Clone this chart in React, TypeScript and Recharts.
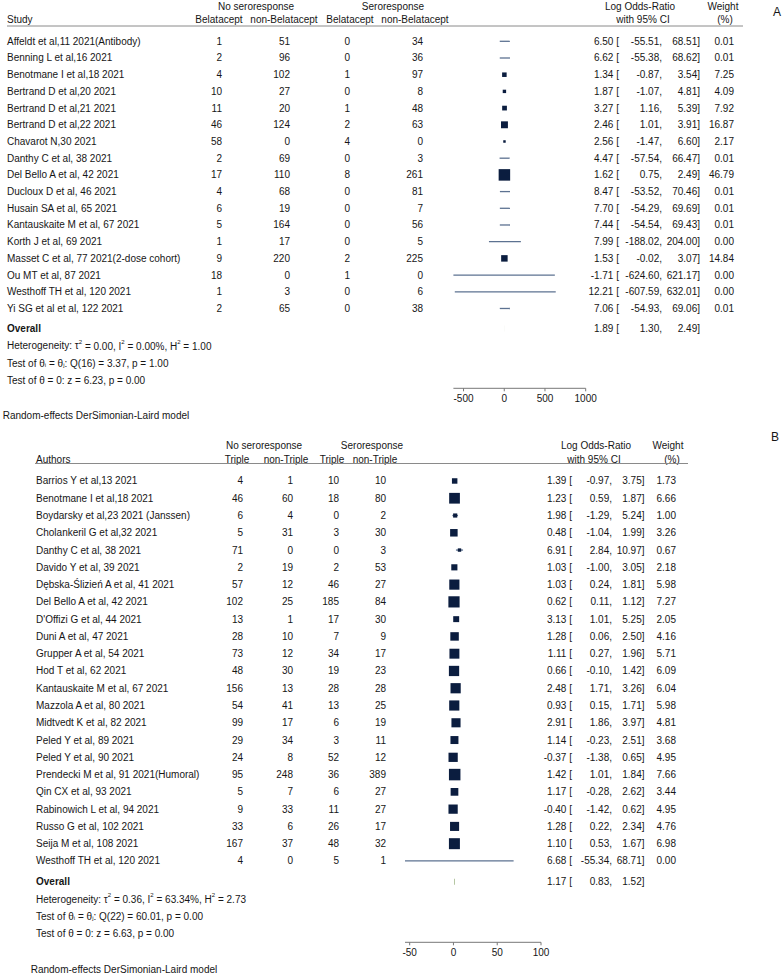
import React from "react";
import { ScatterChart, Scatter, XAxis, YAxis, ErrorBar } from "recharts";

const FONT = "'Liberation Sans', Arial, Helvetica, sans-serif";
const INK = "#161616";
const SQUARE = "#0b1d3f";
const CI = "#5d7291";

// ---- Panel A: Belatacept vs non-Belatacept
const studiesA = [
  "Affeldt et al,11 2021(Antibody)",
  "Benning L et al,16 2021",
  "Benotmane I et al,18 2021",
  "Bertrand D et al,20 2021",
  "Bertrand D et al,21 2021",
  "Bertrand D et al,22 2021",
  "Chavarot N,30 2021",
  "Danthy C et al, 38 2021",
  "Del Bello A et al, 42 2021",
  "Ducloux D et al, 46 2021",
  "Husain SA et al, 65 2021",
  "Kantauskaite M et al, 67 2021",
  "Korth J et al, 69 2021",
  "Masset C et al, 77 2021(2-dose cohort)",
  "Ou MT et al, 87 2021",
  "Westhoff TH et al, 120 2021",
  "Yi SG et al et al, 122 2021",
];
const noRespBelaA = [1, 2, 4, 10, 11, 46, 58, 2, 17, 4, 6, 5, 1, 9, 18, 1, 2];
const noRespNonA = [51, 96, 102, 27, 20, 124, 0, 69, 110, 68, 19, 164, 17, 220, 0, 3, 65];
const respBelaA = [0, 0, 1, 0, 1, 2, 4, 0, 8, 0, 0, 0, 0, 2, 1, 0, 0];
const respNonA = [34, 36, 97, 8, 48, 63, 0, 3, 261, 81, 7, 56, 5, 225, 0, 6, 38];
const lorA = [6.5, 6.62, 1.34, 1.87, 3.27, 2.46, 2.56, 4.47, 1.62, 8.47, 7.7, 7.44, 7.99, 1.53, -1.71, 12.21, 7.06];
const loA = [-55.51, -55.38, -0.87, -1.07, 1.16, 1.01, -1.47, -57.54, 0.75, -53.52, -54.29, -54.54, -188.02, -0.02, -624.6, -607.59, -54.93];
const hiA = [68.51, 68.62, 3.54, 4.81, 5.39, 3.91, 6.6, 66.47, 2.49, 70.46, 69.69, 69.43, 204.0, 3.07, 621.17, 632.01, 69.06];
const weightA = [0.01, 0.01, 7.25, 4.09, 7.92, 16.87, 2.17, 0.01, 46.79, 0.01, 0.01, 0.01, 0.0, 14.84, 0.0, 0.0, 0.01];
const overallA = [1.89, 1.3, 2.49];
const ticksA = [-500, 0, 500, 1000];

// ---- Panel B: Triple vs non-Triple
const studiesB = [
  "Barrios Y et al,13 2021",
  "Benotmane I et al,18 2021",
  "Boydarsky et al,23 2021 (Janssen)",
  "Cholankeril G et al,32 2021",
  "Danthy C et al, 38 2021",
  "Davido Y et al, 39 2021",
  "Dębska-Ślizień A et al, 41 2021",
  "Del Bello A et al, 42 2021",
  "D'Offizi G et al, 44 2021",
  "Duni A et al, 47 2021",
  "Grupper A et al, 54 2021",
  "Hod T et al, 62 2021",
  "Kantauskaite M et al, 67 2021",
  "Mazzola A et al, 80 2021",
  "Midtvedt K et al, 82 2021",
  "Peled Y et al, 89 2021",
  "Peled Y et al, 90 2021",
  "Prendecki M et al, 91 2021(Humoral)",
  "Qin CX et al, 93 2021",
  "Rabinowich L et al, 94 2021",
  "Russo G et al, 102 2021",
  "Seija M et al, 108 2021",
  "Westhoff TH et al, 120 2021",
];
const noRespTripleB = [4, 46, 6, 5, 71, 2, 57, 102, 13, 28, 73, 48, 156, 54, 99, 29, 24, 95, 5, 9, 33, 167, 4];
const noRespNonB = [1, 60, 4, 31, 0, 19, 12, 25, 1, 10, 12, 30, 13, 41, 17, 34, 8, 248, 7, 33, 6, 37, 0];
const respTripleB = [10, 18, 0, 3, 0, 2, 46, 185, 17, 7, 34, 19, 28, 13, 6, 3, 52, 36, 6, 11, 26, 48, 5];
const respNonB = [10, 80, 2, 30, 3, 53, 27, 84, 30, 9, 17, 23, 28, 25, 19, 11, 12, 389, 27, 27, 17, 32, 1];
const lorB = [1.39, 1.23, 1.98, 0.48, 6.91, 1.03, 1.03, 0.62, 3.13, 1.28, 1.11, 0.66, 2.48, 0.93, 2.91, 1.14, -0.37, 1.42, 1.17, -0.4, 1.28, 1.1, 6.68];
const loB = [-0.97, 0.59, -1.29, -1.04, 2.84, -1.0, 0.24, 0.11, 1.01, 0.06, 0.27, -0.1, 1.71, 0.15, 1.86, -0.23, -1.38, 1.01, -0.28, -1.42, 0.22, 0.53, -55.34];
const hiB = [3.75, 1.87, 5.24, 1.99, 10.97, 3.05, 1.81, 1.12, 5.25, 2.5, 1.96, 1.42, 3.26, 1.71, 3.97, 2.51, 0.65, 1.84, 2.62, 0.62, 2.34, 1.67, 68.71];
const weightB = [1.73, 6.66, 1.0, 3.26, 0.67, 2.18, 5.98, 7.27, 2.05, 4.16, 5.71, 6.09, 6.04, 5.98, 4.81, 3.68, 4.95, 7.66, 3.44, 4.95, 4.76, 6.98, 0.0];
const overallB = [1.17, 0.83, 1.52];
const ticksB = [-50, 0, 50, 100];

const fmt = (v: number) => v.toFixed(2);

function buildRows(labels: string[], cols: number[][], est: number[], lo: number[], hi: number[], w: number[]) {
  const wMax = Math.max(...w);
  return labels.map((label, i) => ({
    row: i + 1,
    est: est[i],
    lo: lo[i],
    hi: hi[i],
    err: [est[i] - lo[i], hi[i] - est[i]],
    label,
    counts: cols.map((c) => c[i]),
    w: w[i],
    size: 11.5 * Math.sqrt(w[i] / wMax),
  }));
}

const rowsA = buildRows(studiesA, [noRespBelaA, noRespNonA, respBelaA, respNonA], lorA, loA, hiA, weightA);
const rowsB = buildRows(studiesB, [noRespTripleB, noRespNonB, respTripleB, respNonB], lorB, loB, hiB, weightB);

const overallRow = (o: number[], n: number) => [
  { row: n + 1.2, est: o[0], lo: o[1], hi: o[2], err: [o[0] - o[1], o[2] - o[0]] },
];

const colsA = { labelX: 7, countX: [222, 290, 350, 423], estX: 619, loX: 662, hiX: 700, wX: 734 };
const colsB = { labelX: 36, countX: [243, 293, 339, 386], estX: 572, loX: 612, hiX: 644.5, wX: 676 };

const T = (p: any) => (
  <text fill={INK} fontSize={10} dominantBaseline="central" {...p} />
);

function StudyRow(props: any) {
  const { cx, cy, payload, cols } = props;
  const s = payload.size;
  return (
    <g>
      <T x={cols.labelX} y={cy}>{payload.label}</T>
      {payload.counts.map((c: number, k: number) => (
        <T key={k} x={cols.countX[k]} y={cy} textAnchor="end">{c}</T>
      ))}
      {s > 0.4 && <rect x={cx - s / 2} y={cy - s / 2} width={s} height={s} fill={SQUARE} />}
      <T x={cols.estX} y={cy} textAnchor="end">{fmt(payload.est)} [</T>
      <T x={cols.loX} y={cy} textAnchor="end">{fmt(payload.lo)},</T>
      <T x={cols.hiX} y={cy} textAnchor="end">{fmt(payload.hi)}]</T>
      <T x={cols.wX} y={cy} textAnchor="end">{fmt(payload.w)}</T>
    </g>
  );
}

function Sup({ s }: { s: string }) {
  return <tspan dy={-4} fontSize={6}>{s}</tspan>;
}

function OverallRow(props: any) {
  const { cy, payload, cols, stats, footX, footDy } = props;
  const x = cols.labelX;
  return (
    <g>
      <T x={x} y={cy} fontWeight="bold">Overall</T>
      <T x={cols.estX} y={cy} textAnchor="end">{fmt(payload.est)} [</T>
      <T x={cols.loX} y={cy} textAnchor="end">{fmt(payload.lo)},</T>
      <T x={cols.hiX} y={cy} textAnchor="end">{fmt(payload.hi)}]</T>
      <T x={x} y={cy + 17.4}>
        Heterogeneity: τ<Sup s="2" /><tspan dy={4}> = {stats.tau2}, I</tspan><Sup s="2" />
        <tspan dy={4}> = {stats.i2}, H</tspan><Sup s="2" /><tspan dy={4}> = {stats.h2}</tspan>
      </T>
      <T x={x} y={cy + 34.6}>
        Test of θ<tspan dy={2} fontSize={6}>i</tspan><tspan dy={-2}> = θ</tspan>
        <tspan dy={2} fontSize={6}>j</tspan><tspan dy={-2}>: Q({stats.df}) = {stats.q}, p = {stats.qp}</tspan>
      </T>
      <T x={x} y={cy + 51.6}>Test of θ = 0: z = {stats.z}, p = {stats.zp}</T>
      <T x={footX} y={cy + footDy}>Random-effects DerSimonian-Laird model</T>
    </g>
  );
}

const statsA = { tau2: "0.00", i2: "0.00%", h2: "1.00", df: 16, q: "3.37", qp: "1.00", z: "6.23", zp: "0.00" };
const statsB = { tau2: "0.36", i2: "63.34%", h2: "2.73", df: 22, q: "60.01", qp: "0.00", z: "6.63", zp: "0.00" };

function Forest(props: any) {
  const { rows, overall, cols, ticks, domain, height, margin, yMax, stats, footX, footDy, diamond } = props;
  return (
    <ScatterChart width={783} height={height} margin={margin}>
      <XAxis
        type="number"
        dataKey="est"
        domain={domain}
        ticks={ticks}
        interval={0}
        tickSize={3}
        tickMargin={4}
        stroke="#777"
        tick={{ fill: INK, fontSize: 10 }}
      />
      <YAxis type="number" dataKey="row" domain={[0, yMax]} reversed hide />
      <Scatter
        data={rows}
        isAnimationActive={false}
        shape={(p: any) => <StudyRow {...p} cols={cols} />}
      >
        <ErrorBar dataKey="err" direction="x" width={0} stroke={CI} strokeWidth={1.3} />
      </Scatter>
      <Scatter
        data={overall}
        isAnimationActive={false}
        shape={(p: any) => <OverallRow {...p} cols={cols} stats={stats} footX={footX} footDy={footDy} />}
      >
        <ErrorBar dataKey="err" direction="x" width={0} stroke={diamond} strokeWidth={6} />
      </Scatter>
    </ScatterChart>
  );
}

function Headers() {
  const C = (p: any) => <T textAnchor="middle" {...p} />;
  return (
    <svg width={783} height={976} style={{ position: "absolute", left: 0, top: 0, pointerEvents: "none" }}>
      {/* panel A */}
      <C x={256} y={6}>No seroresponse</C>
      <C x={393} y={6}>Seroresponse</C>
      <C x={640} y={6}>Log Odds-Ratio</C>
      <C x={723} y={6}>Weight</C>
      <T x={7} y={19}>Study</T>
      <C x={219} y={19}>Belatacept</C>
      <C x={284} y={19}>non-Belatacept</C>
      <C x={350} y={19}>Belatacept</C>
      <C x={415} y={19}>non-Belatacept</C>
      <C x={643} y={19}>with 95% CI</C>
      <C x={725} y={19}>(%)</C>
      <line x1={7} x2={743} y1={26} y2={26} stroke="#8a8a8a" strokeWidth={1} />
      <C x={777} y={12} fontSize={12}>A</C>
      {/* panel B */}
      <C x={264} y={445}>No seroresponse</C>
      <C x={372} y={445}>Seroresponse</C>
      <C x={596} y={445}>Log Odds-Ratio</C>
      <C x={668} y={445}>Weight</C>
      <T x={36} y={459}>Authors</T>
      <C x={237} y={459}>Triple</C>
      <C x={286} y={459}>non-Triple</C>
      <C x={332} y={459}>Triple</C>
      <C x={375} y={459}>non-Triple</C>
      <C x={594} y={459}>with 95% CI</C>
      <C x={672} y={459}>(%)</C>
      <line x1={35} x2={688} y1={463.5} y2={463.5} stroke="#8a8a8a" strokeWidth={1} />
      <C x={775} y={437} fontSize={12}>B</C>
    </svg>
  );
}

export default function App() {
  return (
    <div style={{ position: "absolute", left: 0, top: 0, width: 783, height: 976, background: "#fff", fontFamily: FONT }}>
      <div style={{ position: "absolute", left: 0, top: 0 }}>
        <Forest
          rows={rowsA}
          overall={overallRow(overallA, rowsA.length)}
          cols={colsA}
          ticks={ticksA}
          domain={[-624.6, 1000]}
          height={425}
          margin={{ top: 24.6, right: 197.3, bottom: 6.7, left: 453.4 }}
          yMax={21.78}
          stats={statsA}
          footX={2.7}
          footDy={86.7}
          diamond="#c9d0c2"
        />
      </div>
      <div style={{ position: "absolute", left: 0, top: 425 }}>
        <Forest
          rows={rowsB}
          overall={overallRow(overallB, rowsB.length)}
          cols={colsB}
          ticks={ticksB}
          domain={[-55.34, 100]}
          height={551}
          margin={{ top: 38.7, right: 242, bottom: 3.7, left: 405 }}
          yMax={27.71}
          stats={statsB}
          footX={30.7}
          footDy={88.3}
          diamond="#86a266"
        />
      </div>
      <Headers />
    </div>
  );
}
